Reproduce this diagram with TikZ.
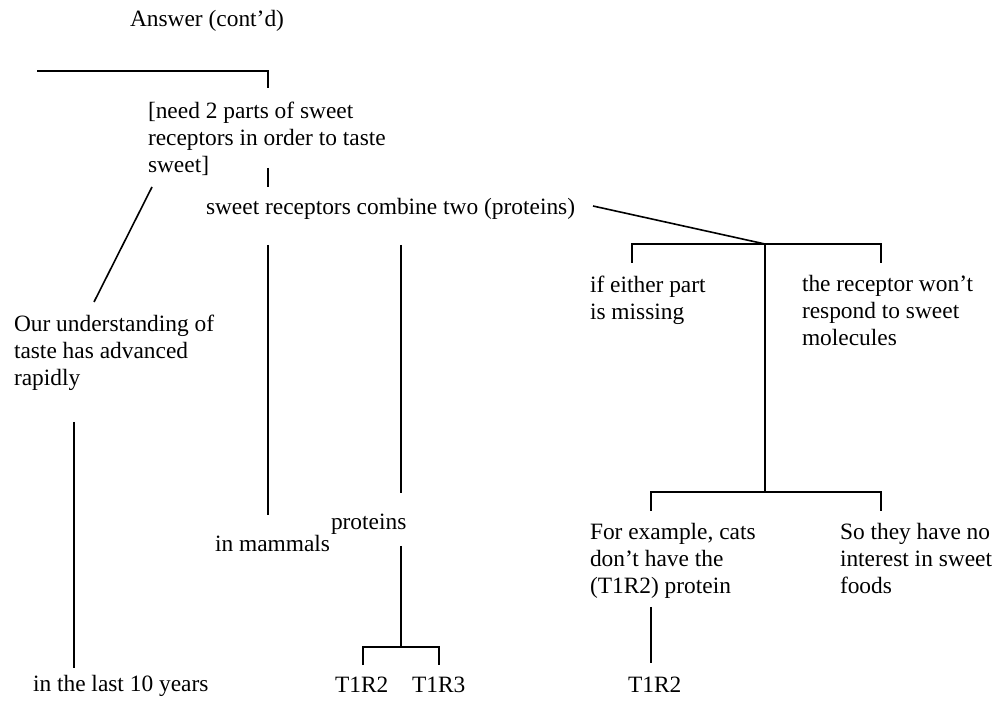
\documentclass[tikz,border=0pt]{standalone}
\usepackage{fontspec}
\setmainfont{Liberation Serif}
\newcommand{\mylines}[1]{\begin{tabular}[t]{@{}l@{}}#1\end{tabular}}
\begin{document}
\begin{tikzpicture}[x=1pt,y=-1pt,
  txt/.style={anchor=base west,inner sep=0pt,outer sep=0pt,font=\fontsize{23.4}{27}\selectfont},
  conn/.style={line width=1.6pt,line cap=butt,line join=miter}]
\useasboundingbox (0,0) rectangle (997,708);
% texts
\node[txt] (ans) at (130,27) {Answer (cont’d)};
\node[txt] (need) at (148,119) {\mylines{[need 2 parts of sweet\\receptors in order to taste\\sweet]}};
\node[txt] (comb) at (206,215) {sweet receptors combine two (proteins)};
\node[txt] (our) at (14,332) {\mylines{Our understanding of\\taste has advanced\\rapidly}};
\node[txt] (last) at (33,691) {in the last 10 years};
\node[txt] (mam) at (215,552) {in mammals};
\node[txt] (prot) at (331,530) {proteins};
\node[txt] (ta) at (335,692) {T1R2};
\node[txt] (tb) at (412,692) {T1R3};
\node[txt] (either) at (590,293) {\mylines{if either part\\is missing}};
\node[txt] (resp) at (802,292) {\mylines{the receptor won’t\\respond to sweet\\molecules}};
\node[txt] (cats) at (590,540) {\mylines{For example, cats\\don’t have the\\(T1R2) protein}};
\node[txt] (nointer) at (840,540) {\mylines{So they have no\\interest in sweet\\foods}};
\node[txt] (tc) at (628,692) {T1R2};
% connector points
\coordinate (p0) at (37,71);
\coordinate (p1) at (268,71);
\coordinate (p2) at (268,88);
\coordinate (q1) at (268,168);
\coordinate (q2) at (268,187);
\coordinate (d1) at (152,187);
\coordinate (d2) at (94,302);
\coordinate (v1) at (74,422);
\coordinate (v2) at (74,668);
\coordinate (m1) at (268,245);
\coordinate (m2) at (268,515);
\coordinate (r1) at (401,245);
\coordinate (r2) at (401,493);
\coordinate (r3) at (401,546);
\coordinate (r4) at (401,647);
\coordinate (b1) at (363,665);
\coordinate (b2) at (363,647);
\coordinate (b3) at (439,647);
\coordinate (b4) at (439,665);
\coordinate (e1) at (593,206);
\coordinate (e2) at (765,244);
\coordinate (f1) at (632,263);
\coordinate (f2) at (632,244);
\coordinate (f3) at (881,244);
\coordinate (f4) at (881,263);
\coordinate (g1) at (765,492);
\coordinate (h1) at (651,511);
\coordinate (h2) at (651,492);
\coordinate (h3) at (881,492);
\coordinate (h4) at (881,511);
\coordinate (k1) at (651,607);
\coordinate (k2) at (651,663);
% connectors
\draw[conn] (p0) -- (p1) -- (p2);
\draw[conn] (q1) -- (q2);
\draw[conn] (d1) -- (d2);
\draw[conn] (v1) -- (v2);
\draw[conn] (m1) -- (m2);
\draw[conn] (r1) -- (r2);
\draw[conn] (r3) -- (r4);
\draw[conn] (b1) -- (b2) -- (b3) -- (b4);
\draw[conn] (e1) -- (e2);
\draw[conn] (f1) -- (f2) -- (f3) -- (f4);
\draw[conn] (e2) -- (g1);
\draw[conn] (h1) -- (h2) -- (h3) -- (h4);
\draw[conn] (k1) -- (k2);
\end{tikzpicture}
\end{document}
